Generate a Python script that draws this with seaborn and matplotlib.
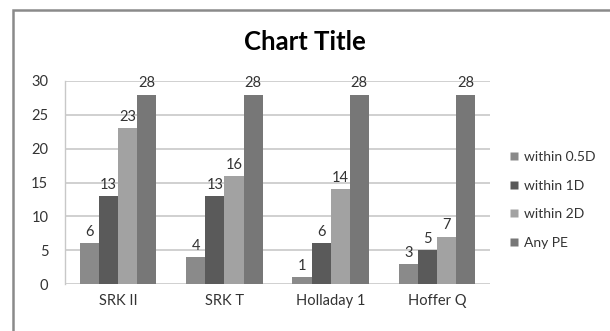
import matplotlib
matplotlib.use("Agg")
import matplotlib.pyplot as plt
from matplotlib.patches import Rectangle
from matplotlib.lines import Line2D
import seaborn as sns
import pandas as pd

formulas = ["SRK II", "SRK T", "Holladay 1", "Hoffer Q"]
series = ["within 0.5D", "within 1D", "within 2D", "Any PE"]
within_05d = [6, 4, 1, 3]
within_1d = [13, 13, 6, 5]
within_2d = [23, 16, 14, 7]
any_pe = [28, 28, 28, 28]
colors = ["#8a8a8a", "#5a5a5a", "#a2a2a2", "#777777"]

rows = []
for name, vals in zip(series, [within_05d, within_1d, within_2d, any_pe]):
    for f, v in zip(formulas, vals):
        rows.append({"formula": f, "series": name, "value": v})
df = pd.DataFrame(rows)

sns.set_style("white")
plt.rcParams["font.family"] = ["Lato", "DejaVu Sans"]

fig = plt.figure(figsize=(6.1, 3.31), dpi=100)
ax = fig.add_axes([65 / 610, 1 - 284 / 331, 425 / 610, 203 / 331])

sns.barplot(data=df, x="formula", y="value", hue="series", order=formulas,
            hue_order=series, palette=colors, width=0.72, saturation=1,
            ax=ax, legend=False, edgecolor="none")

for cont in ax.containers:
    ax.bar_label(cont, fmt="%d", padding=3, fontsize=10.5, color="#333333")

ax.set_ylim(0, 30)
ax.set_yticks(range(0, 31, 5))
ax.set_xlim(-0.5, 3.5)
ax.yaxis.grid(True, color="#c8c8c8", linewidth=1.2)
ax.set_axisbelow(True)
for s in ["top", "right", "bottom"]:
    ax.spines[s].set_visible(False)
ax.spines["left"].set_color("#c8c8c8")
ax.spines["left"].set_linewidth(1.0)
ax.tick_params(axis="both", length=0, labelsize=10.5, colors="#333333")
ax.tick_params(axis="y", pad=12)
ax.tick_params(axis="x", pad=7)
ax.set_xlabel("")
ax.set_ylabel("")

fig.text(0.5, 1 - 42 / 331, "Chart Title", ha="center", va="center",
         fontsize=18.5, fontweight="bold", color="#000000")

handles = [Line2D([], [], marker="s", linestyle="none", markersize=6,
                  markerfacecolor=c, markeredgecolor="none") for c in colors]
fig.legend(handles, series, loc="center left",
           bbox_to_anchor=(495 / 610, 1 - 200 / 331), frameon=False,
           fontsize=10, handletextpad=0.2, labelspacing=1.2,
           labelcolor="#333333", handlelength=1.0)

fig.patches.append(Rectangle((13 / 610, -0.1), 1.2, 1.1 - 10 / 331,
                             transform=fig.transFigure, fill=False,
                             edgecolor="#8a8a8a", linewidth=1.8))

fig.savefig("out.png", dpi=100)
